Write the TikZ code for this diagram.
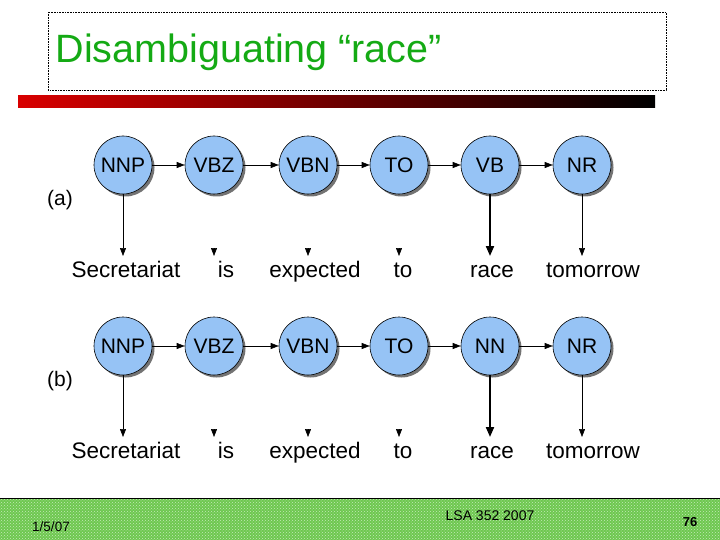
\documentclass[tikz,border=0pt]{standalone}
\usepackage{fontspec}
\setmainfont{Liberation Sans}
\usetikzlibrary{arrows.meta,patterns}
\definecolor{nodeblue}{RGB}{150,195,245}
\definecolor{titlegreen}{RGB}{20,170,20}
\definecolor{footgreen}{RGB}{110,200,80}
\begin{document}
\begin{tikzpicture}[x=1pt,y=-1pt,
  tag/.style={circle,fill=nodeblue,draw=black,line width=0.6pt,minimum size=58pt,inner sep=0pt,font=\fontsize{21}{21}\selectfont},
  word/.style={font=\fontsize{22.5}{22.5}\selectfont,anchor=base},
  tr/.style={-{Triangle[length=8pt,width=6pt]},line width=0.6pt},
  em/.style={-{Triangle[length=10pt,width=8pt]},line width=2pt}]
\useasboundingbox (0,0) rectangle (720,540);
\draw[densely dotted,line width=0.6pt] (48,12) rectangle (666,90);
\node[anchor=west,text=titlegreen,font=\fontsize{39.5}{39.5}\selectfont] (title) at (52,52) {Disambiguating “race”};
\shade[left color=red!85!black,right color=black] (18,96) rectangle (655,108);
\fill[footgreen] (0,498) rectangle (720,540);
\fill[pattern=crosshatch dots,pattern color=white!60!footgreen] (0,498) rectangle (720,540);
\draw[line width=0.8pt] (0,498) -- (720,498);
\node[font=\fontsize{13.5}{13.5}\selectfont] (date) at (51,527) {1/5/07};
\node[font=\fontsize{14}{14}\selectfont] (lsa) at (490,516) {LSA 352 2007};
\node[font=\bfseries\fontsize{13}{13}\selectfont] (pg) at (690,522) {76};
\foreach \r/\y/\t/\lab in {a/165/VB/(a),b/346/NN/(b)}{
  \node[font=\fontsize{21}{21}\selectfont] (lab\r) at (60,\y+35) {\lab};
  \foreach \n/\x/\txt in {1/123/NNP,2/214/VBZ,3/308/VBN,4/399/TO,5/490/\t,6/582/NR}{
    \fill[black!55] (\x+2.5,\y+2.5) circle (29);
    \node[tag] (\r\n) at (\x,\y) {\txt};
  }
  \foreach \n/\x/\w in {1/126/Secretariat,2/226/is,3/315/expected,4/403/to,5/492/race,6/593/tomorrow}{
    \node[word] (w\r\n) at (\x,\y+112) {\w};
  }
  \foreach \i/\j in {1/2,2/3,3/4,4/5,5/6}{\draw[tr] (\r\i) -- (\r\j);}
  \draw[tr] (\r1) -- (123,\y+91);
  \draw[tr] (214,\y+83) -- (214,\y+91);
  \draw[tr] (308,\y+83) -- (308,\y+91);
  \draw[tr] (399,\y+83) -- (399,\y+91);
  \draw[em] (\r5) -- (490,\y+91);
  \draw[tr] (\r6) -- (582,\y+91);
}
\end{tikzpicture}
\end{document}
